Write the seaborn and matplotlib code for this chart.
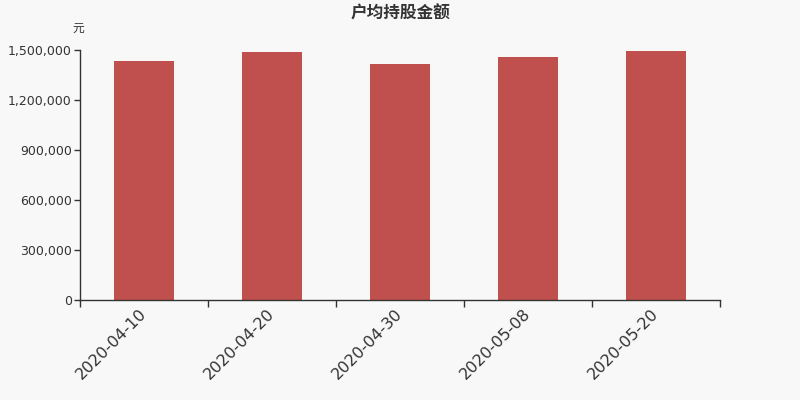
import matplotlib
matplotlib.use('Agg')
import matplotlib.pyplot as plt
import seaborn as sns
import pandas as pd
from matplotlib.ticker import FuncFormatter, FixedLocator

# --- data ---
dates = ['2020-04-10', '2020-04-20', '2020-04-30', '2020-05-08', '2020-05-20']
values = [1434000, 1488000, 1418000, 1458000, 1491000]
yticks = [0, 300000, 600000, 900000, 1200000, 1500000]

sns.set_style('white')
plt.rcParams['font.family'] = ['DejaVu Sans', 'Noto Sans CJK SC']

df = pd.DataFrame({'date': dates, 'value': values})

bg = '#f8f8f8'
fig = plt.figure(figsize=(8, 4), dpi=100, facecolor=bg)
ax = fig.add_axes([0.1, 0.25, 0.8, 0.625])
ax.set_facecolor(bg)

sns.barplot(data=df, x='date', y='value', color='#c0504d', saturation=1,
            width=0.47, linewidth=0, ax=ax)

ax.set_xlim(-0.5, len(dates) - 0.5)
ax.set_ylim(0, 1500000)
ax.set_yticks(yticks)
ax.yaxis.set_major_formatter(FuncFormatter(lambda v, p: f'{int(v):,}'))
ax.tick_params(axis='y', length=4, width=1, color='#333333', labelsize=9,
               labelcolor='#333333', pad=2, left=True)

# category labels at centres, tick marks at the boundaries
ax.set_xticks(range(len(dates)))
ax.set_xticklabels(dates, rotation=45, ha='right', va='center',
                   rotation_mode='anchor', fontsize=11.5, color='#333333')
ax.tick_params(axis='x', which='major', length=0, pad=8)
ax.xaxis.set_minor_locator(FixedLocator([i - 0.5 for i in range(len(dates) + 1)]))
ax.tick_params(axis='x', which='minor', length=5, width=1, color='#333333', bottom=True)

for s in ['top', 'right']:
    ax.spines[s].set_visible(False)
for s in ['left', 'bottom']:
    ax.spines[s].set_color('#333333')
    ax.spines[s].set_linewidth(1)

ax.set_xlabel('')
ax.set_ylabel('')
fig.text(0.5, 0.967, '户均持股金额', ha='center', va='center', fontsize=12,
         fontweight='bold', color='#333333', family=['Noto Sans CJK SC'])
fig.text(0.0975, 0.928, '元', ha='center', va='center', fontsize=8.5,
         color='#333333', family=['Noto Sans CJK SC'])

fig.savefig('out.png', dpi=100, facecolor=bg)
